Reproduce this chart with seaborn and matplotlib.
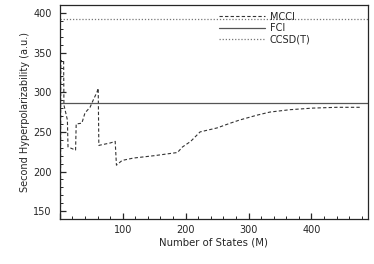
import numpy as np
import pandas as pd
import matplotlib
matplotlib.use("Agg")
import matplotlib.pyplot as plt
import seaborn as sns
from matplotlib.ticker import MultipleLocator

# MCCI curve (M, value)
states = [1, 1.5, 2, 6, 6.5, 12, 13, 25, 26, 35, 40, 48, 53, 59, 61, 62,
          80, 88, 90, 99, 117, 150, 187, 195, 208, 223, 250, 271, 286,
          313, 334, 366, 402, 440, 477]
mcci = [120, 340, 340, 340, 284, 265, 231, 227, 260, 261, 274, 281, 290, 300,
        305, 233, 236, 238, 208, 214, 217, 220, 224, 231, 238, 250, 255, 261,
        265, 271, 275, 278, 280, 281, 281]
fci = 287
ccsd_t = 392.5

df = pd.DataFrame({"M": states, "val": mcci})

sns.set_style("ticks")
plt.rcParams["font.family"] = ["DejaVu Sans"]

fig = plt.figure(figsize=(3.74, 2.64), dpi=100)
ax = fig.add_axes([0.160, 0.170, 0.824, 0.811])

sns.lineplot(data=df, x="M", y="val", ax=ax, estimator=None, sort=False,
             color="#333333", lw=0.8, linestyle=(0, (3, 2)), label="MCCI")
ax.axhline(fci, color="#555555", lw=0.9, label="FCI")
ax.axhline(ccsd_t, color="#777777", lw=0.9, linestyle=(0, (1, 1.5)), label="CCSD(T)")

ax.set_xlim(0, 490)
ax.set_ylim(140, 410)
ax.xaxis.set_major_locator(MultipleLocator(100))
ax.xaxis.set_minor_locator(MultipleLocator(20))
ax.yaxis.set_major_locator(MultipleLocator(50))
ax.yaxis.set_minor_locator(MultipleLocator(10))
ax.xaxis.set_major_formatter(lambda v, p: "" if v == 0 else f"{v:.0f}")
ax.tick_params(which="both", direction="in", labelsize=7)
ax.tick_params(axis="x", pad=4)
ax.tick_params(axis="y", pad=6)
ax.tick_params(which="major", length=4, width=0.9)
ax.tick_params(which="minor", length=2, width=0.7)
for s in ax.spines.values():
    s.set_linewidth(0.9)

ax.set_xlabel("Number of States (M)", fontsize=7.3, labelpad=2)
ax.set_ylabel("Second Hyperpolarizability (a.u.)", fontsize=7, labelpad=2)

ax.legend(loc="upper right", bbox_to_anchor=(0.835, 1.0), frameon=False,
          fontsize=7, handlelength=4.7, handletextpad=0.5,
          labelspacing=0.15, borderaxespad=0.3)

fig.savefig("out.png", dpi=100)
